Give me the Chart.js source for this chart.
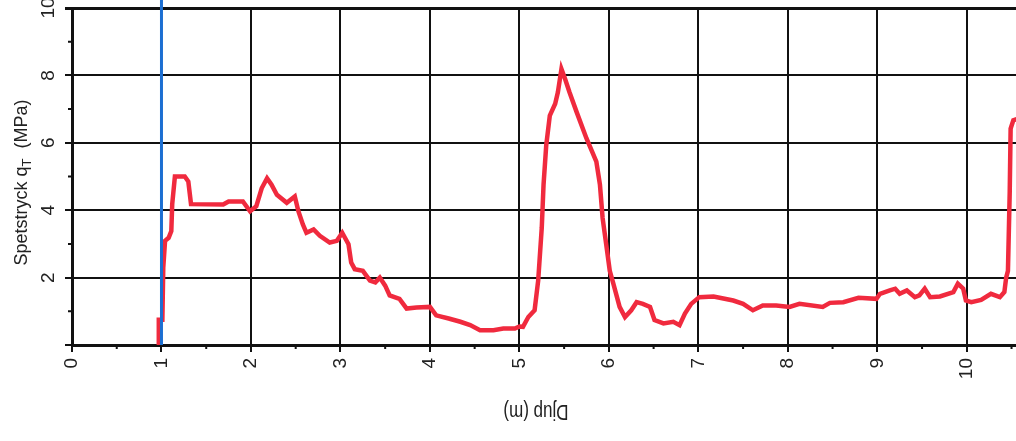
<!DOCTYPE html>
<html lang="sv">
<head>
<meta charset="UTF-8">
<title>Spetstryck</title>
<style>
  body { margin: 0; background: #fff; }
  #wrap { width: 1016px; height: 441px; }
</style>
</head>
<body>
<div id="wrap"><canvas id="chart"></canvas></div>
<script src="https://cdn.jsdelivr.net/npm/chart.js"></script>
<script>
// djup (m) och spetstryck qT (MPa)
const depth = [0.97, 0.97, 1.01, 1.02, 1.04, 1.08, 1.11, 1.12, 1.15, 1.26, 1.30, 1.33, 1.69, 1.75, 1.91, 1.99,
  2.06, 2.12, 2.18, 2.23, 2.29, 2.40, 2.49, 2.53, 2.58, 2.62, 2.70, 2.77, 2.88, 2.96, 3.02, 3.09, 3.12, 3.16,
  3.25, 3.33, 3.39, 3.44, 3.50, 3.55, 3.66, 3.74, 3.85, 4.00, 4.07, 4.22, 4.34, 4.45, 4.56, 4.71, 4.82, 4.95,
  5.00, 5.04, 5.10, 5.17, 5.21, 5.25, 5.27, 5.30, 5.34, 5.40, 5.43, 5.47, 5.51, 5.56, 5.64, 5.75, 5.86, 5.90,
  5.93, 5.97, 6.01, 6.05, 6.12, 6.18, 6.25, 6.31, 6.38, 6.46, 6.51, 6.61, 6.72, 6.79, 6.85, 6.92, 7.01, 7.17,
  7.39, 7.50, 7.61, 7.72, 7.87, 8.02, 8.13, 8.39, 8.47, 8.62, 8.79, 8.99, 9.03, 9.14, 9.20, 9.25, 9.33, 9.42,
  9.47, 9.53, 9.59, 9.70, 9.85, 9.90, 9.96, 9.99, 10.05, 10.16, 10.27, 10.37, 10.42, 10.44, 10.46, 10.48,
  10.49, 10.52, 10.56];
const qt = [0, 0.75, 0.75, 2.3, 3.09, 3.18, 3.38, 4.18, 5.0, 5.0, 4.85, 4.18, 4.17, 4.26, 4.26, 3.97,
  4.12, 4.65, 4.95, 4.76, 4.46, 4.22, 4.41, 3.97, 3.58, 3.33, 3.43, 3.24, 3.04, 3.09, 3.33, 2.99, 2.45, 2.25,
  2.20, 1.91, 1.86, 2.0, 1.76, 1.47, 1.37, 1.08, 1.11, 1.13, 0.88, 0.78, 0.69, 0.59, 0.44, 0.44, 0.49, 0.49,
  0.55, 0.54, 0.83, 1.03, 1.91, 3.48, 4.76, 5.93, 6.81, 7.16, 7.5, 8.19, 7.9, 7.5, 6.91, 6.13, 5.44, 4.76,
  3.77, 2.99, 2.2, 1.82, 1.13, 0.83, 1.03, 1.27, 1.22, 1.13, 0.74, 0.64, 0.69, 0.59, 0.93, 1.22, 1.42, 1.44,
  1.32, 1.22, 1.03, 1.17, 1.17, 1.13, 1.22, 1.13, 1.25, 1.27, 1.40, 1.37, 1.52, 1.62, 1.67, 1.52, 1.62, 1.42,
  1.47, 1.67, 1.42, 1.44, 1.57, 1.82, 1.67, 1.32, 1.27, 1.34, 1.52, 1.42, 1.57, 2.0, 2.2, 4.56,
  6.42, 6.67, 6.7];

// blå markeringslinje vid 1 m
const markDepth = [1, 1];
const markQt = [0, 10.25];

const xMin = 0, xMax = 10.55, xStep = 0.5;
const yMin = 0, yMax = 10, yStep = 1;

const ink = '#111';
const fontFamily = '"Liberation Sans", Arial, sans-serif';

const extras = {
  id: 'extras',
  afterDraw(chart) {
    const { ctx, chartArea, scales: { x, y } } = chart;
    ctx.save();
    // korta mellanstreck
    ctx.strokeStyle = ink;
    ctx.lineWidth = 2;
    ctx.beginPath();
    x.ticks.forEach(t => {
      if (t.value % 1 !== 0) {
        const px = x.getPixelForValue(t.value);
        ctx.moveTo(px, chartArea.bottom);
        ctx.lineTo(px, chartArea.bottom + 4);
      }
    });
    y.ticks.forEach(t => {
      if (t.value % 2 !== 0) {
        const py = y.getPixelForValue(t.value);
        ctx.moveTo(chartArea.left, py);
        ctx.lineTo(chartArea.left - 4, py);
      }
    });
    ctx.stroke();

    // y-axelns titel med nedsänkt T
    ctx.fillStyle = '#222';
    const big = '18px ' + fontFamily;
    const small = '13px ' + fontFamily;
    const p1 = 'Spetstryck q', p2 = 'T', p3 = '  (MPa)';
    ctx.font = big;
    const w1 = ctx.measureText(p1).width, w3 = ctx.measureText(p3).width;
    ctx.font = small;
    const w2 = ctx.measureText(p2).width;
    const total = w1 + w2 + w3;
    ctx.translate(27, (chartArea.top + chartArea.bottom) / 2 + 6);
    ctx.rotate(-Math.PI / 2);
    ctx.textBaseline = 'alphabetic';
    ctx.textAlign = 'left';
    let tx = -total / 2;
    ctx.font = big;
    ctx.fillText(p1, tx, 0);
    tx += w1;
    ctx.font = small;
    ctx.fillText(p2, tx, 4);
    tx += w2;
    ctx.font = big;
    ctx.fillText(p3, tx, 0);
    ctx.restore();

    // x-axelns titel, upp och ner som i originalet
    ctx.save();
    ctx.fillStyle = '#222';
    ctx.font = '17px ' + fontFamily;
    ctx.translate(536, 411);
    ctx.rotate(Math.PI);
    ctx.scale(1, 1.35);
    ctx.textAlign = 'center';
    ctx.textBaseline = 'middle';
    ctx.fillText('Djup (m)', 0, 0);
    ctx.restore();
  }
};

new Chart(document.getElementById('chart'), {
  type: 'line',
  data: {
    datasets: [
      {
        label: 'markering',
        data: markDepth.map((d, i) => ({ x: d, y: markQt[i] })),
        borderColor: '#1c6fd2',
        borderWidth: 3,
        pointRadius: 0,
        clip: false
      },
      {
        label: 'qT',
        data: depth.map((d, i) => ({ x: d, y: qt[i] })),
        borderColor: '#f02a3e',
        borderWidth: 4.5,
        pointRadius: 0,
        tension: 0
      }
    ]
  },
  options: {
    responsive: true,
    maintainAspectRatio: false,
    animation: false,
    layout: { padding: { top: 8, left: 0, right: 0, bottom: 0 } },
    plugins: { legend: { display: false }, tooltip: { enabled: false } },
    scales: {
      x: {
        type: 'linear',
        min: xMin,
        max: xMax,
        ticks: {
          stepSize: xStep,
          includeBounds: false,
          minRotation: 90,
          maxRotation: 90,
          padding: 6,
          color: '#222',
          font: { family: fontFamily, size: 19 },
          callback: v => (v % 1 === 0 ? String(v) : '')
        },
        grid: {
          color: c => (c.tick && c.tick.value % 1 === 0 ? ink : 'transparent'),
          tickColor: c => (c.tick && c.tick.value % 1 === 0 ? ink : 'transparent'),
          lineWidth: 2,
          tickLength: 7
        },
        border: { color: ink, width: 3 },
        afterFit: s => { s.height = 96; s.paddingLeft = 0; s.paddingRight = 0; }
      },
      y: {
        min: yMin,
        max: yMax,
        ticks: {
          stepSize: yStep,
          minRotation: 90,
          maxRotation: 90,
          crossAlign: 'center',
          padding: 6,
          color: '#222',
          font: { family: fontFamily, size: 19 },
          callback: v => (v > 0 && v % 2 === 0 ? String(v) : '')
        },
        grid: {
          color: c => (c.tick && c.tick.value % 2 === 0 ? ink : 'transparent'),
          tickColor: c => (c.tick && c.tick.value % 2 === 0 ? ink : 'transparent'),
          lineWidth: c => (c.tick && c.tick.value === yMax ? 3 : 2),
          tickLength: 7
        },
        border: { color: ink, width: 3 },
        afterFit: s => { s.width = 72; s.paddingTop = 0; s.paddingBottom = 0; }
      }
    }
  },
  plugins: [extras]
});
</script>
</body>
</html>
